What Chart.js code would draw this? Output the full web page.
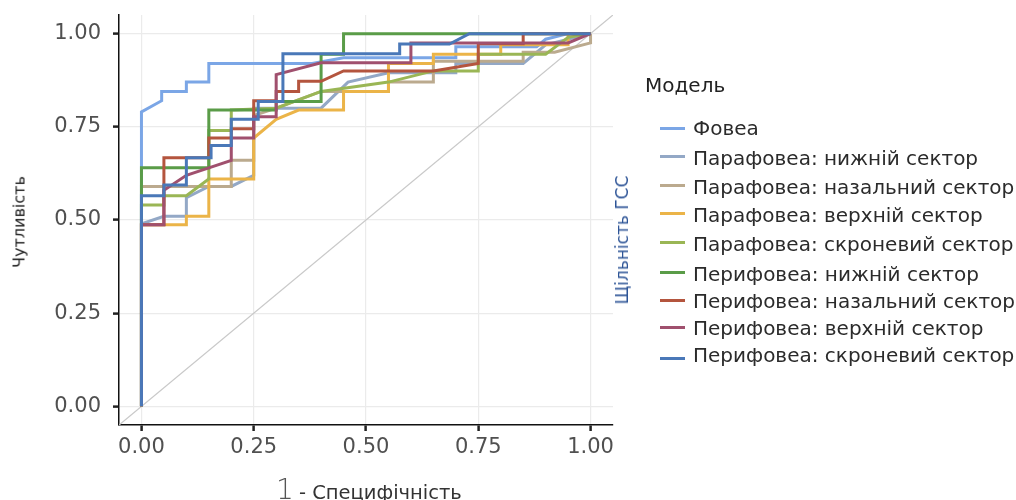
<!DOCTYPE html>
<html><head><meta charset="utf-8">
<script src="https://cdn.jsdelivr.net/npm/chart.js@4/dist/chart.umd.min.js"></script>
<style>
html,body{margin:0;padding:0;background:#fff;}
#wrap{position:relative;width:1016px;height:500px;overflow:hidden;font-family:"DejaVu Sans",sans-serif;}
canvas{position:absolute;left:0;top:0;}
.abs{position:absolute;white-space:nowrap;}
.item{position:absolute;left:693px;font-size:20px;color:#2b2b2b;transform:translateY(-50%);}
.sw{position:absolute;left:660px;width:25px;height:3px;}
</style></head>
<body><div id="wrap"><canvas id="c" width="1016" height="500"></canvas>
<div class="abs" style="left:19px;top:222px;transform:translate(-50%,-50%) rotate(-90deg);font-size:16px;color:#222;">Чутливість</div>
<div class="abs" style="left:276px;top:489px;transform:translateY(-50%);color:#333;"><span style="font-size:28px;font-weight:300;color:#555;">1</span> <span style="font-size:19.5px;">- Специфічність</span></div>
<div class="abs" style="left:622px;top:240px;transform:translate(-50%,-50%) rotate(-90deg);font-size:17px;color:#2E5597;">Щільність ГСС</div>
<div class="abs" style="left:645px;top:85px;transform:translateY(-50%);font-size:20px;color:#222;">Модель</div>
<div id="legend"></div>
</div>
<script>
const modelNames = ["Фовеа","Парафовеа: нижній сектор","Парафовеа: назальний сектор","Парафовеа: верхній сектор","Парафовеа: скроневий сектор","Перифовеа: нижній сектор","Перифовеа: назальний сектор","Перифовеа: верхній сектор","Перифовеа: скроневий сектор"];
const modelColors = ["#7BA6E6","#93A8C6","#BBAA8E","#EBB448","#9AB655","#5A9C48","#B4553E","#A0506E","#4A78B8"];
const tickValues = [0,0.25,0.5,0.75,1];
const tickLabels = ["0.00","0.25","0.50","0.75","1.00"];

// ROC points [1 - specificity, sensitivity]
const fovea = [[0,0],[0,0.79],[0.045,0.82],[0.045,0.845],[0.1,0.845],[0.1,0.87],[0.15,0.87],[0.15,0.92],[0.38,0.92],[0.45,0.935],[0.7,0.935],[0.7,0.965],[0.88,0.965],[0.9,0.985],[0.95,1],[1,1]];
const paraInf = [[0,0],[0,0.49],[0.05,0.51],[0.1,0.51],[0.1,0.56],[0.15,0.59],[0.2,0.59],[0.25,0.62],[0.25,0.8],[0.4,0.8],[0.46,0.87],[0.55,0.895],[0.7,0.895],[0.7,0.92],[0.85,0.92],[0.9,0.97],[1,1]];
const paraNas = [[0,0],[0,0.59],[0.2,0.59],[0.2,0.66],[0.25,0.66],[0.25,0.78],[0.3,0.8],[0.4,0.845],[0.55,0.845],[0.55,0.87],[0.65,0.87],[0.65,0.926],[0.85,0.926],[0.85,0.95],[0.92,0.95],[1,0.975],[1,1]];
const paraSup = [[0,0],[0,0.487],[0.1,0.487],[0.1,0.51],[0.15,0.51],[0.15,0.61],[0.25,0.61],[0.25,0.72],[0.3,0.77],[0.35,0.795],[0.45,0.795],[0.45,0.845],[0.55,0.845],[0.55,0.92],[0.65,0.92],[0.65,0.945],[0.8,0.945],[0.8,0.97],[0.95,0.97],[0.95,1],[1,1]];
const paraTemp = [[0,0],[0,0.54],[0.05,0.54],[0.05,0.565],[0.1,0.565],[0.15,0.61],[0.15,0.74],[0.2,0.74],[0.2,0.795],[0.3,0.8],[0.4,0.845],[0.55,0.87],[0.65,0.9],[0.75,0.9],[0.75,0.945],[0.9,0.945],[0.95,0.99],[1,1]];
const periInf = [[0,0],[0,0.64],[0.15,0.64],[0.15,0.795],[0.3,0.795],[0.3,0.818],[0.4,0.818],[0.4,0.945],[0.45,0.945],[0.45,1],[1,1]];
const periNas = [[0,0],[0,0.487],[0.05,0.487],[0.05,0.667],[0.15,0.667],[0.15,0.72],[0.2,0.72],[0.2,0.745],[0.25,0.745],[0.25,0.82],[0.3,0.82],[0.3,0.845],[0.35,0.845],[0.35,0.872],[0.4,0.872],[0.45,0.9],[0.65,0.9],[0.75,0.92],[0.75,0.973],[0.85,0.973],[0.85,1],[1,1]];
const periSup = [[0,0],[0,0.487],[0.05,0.487],[0.05,0.58],[0.1,0.62],[0.15,0.64],[0.2,0.66],[0.2,0.72],[0.25,0.72],[0.25,0.777],[0.3,0.777],[0.3,0.89],[0.4,0.922],[0.6,0.922],[0.6,0.975],[0.95,0.975],[1,1]];
const periTemp = [[0,0],[0,0.565],[0.05,0.565],[0.05,0.594],[0.1,0.594],[0.1,0.667],[0.155,0.667],[0.155,0.7],[0.2,0.7],[0.2,0.77],[0.26,0.77],[0.26,0.818],[0.315,0.818],[0.315,0.946],[0.575,0.946],[0.575,0.972],[0.686,0.972],[0.73,1],[1,1]];
const refLine = [[-0.05,-0.05],[1.05,1.05]];

const series = [fovea,paraInf,paraNas,paraSup,paraTemp,periInf,periNas,periSup,periTemp];
const datasets = series.map((s,i)=>({
  label: modelNames[i],
  data: s.map(p=>({x:p[0],y:p[1]})),
  borderColor: modelColors[i],
  borderWidth: 3,
  pointRadius: 0,
  tension: 0,
  fill: false,
  order: series.length - i
}));
datasets.push({label:"ref",data:refLine.map(p=>({x:p[0],y:p[1]})),borderColor:"#C9C9C9",borderWidth:1.3,pointRadius:0,fill:false,order:100});

// legend
const lg = document.getElementById('legend');
const legY = [128,158,187,215,244,274,301,328,355];
const swY = [128,156,185,213,242,272,300,327,358];
modelNames.forEach((n,i)=>{
  const sw=document.createElement('div');sw.className='sw';sw.style.top=(swY[i]-1.5)+'px';sw.style.background=modelColors[i];lg.appendChild(sw);
  const t=document.createElement('div');t.className='item';t.style.top=legY[i]+'px';t.textContent=n;lg.appendChild(t);
});

const tickOpts = {family:"DejaVu Sans",size:21};
new Chart(document.getElementById('c'),{
  type:'line',
  data:{datasets},
  options:{
    responsive:false,animation:false,
    layout:{padding:{top:15,right:403,left:0,bottom:0}},
    plugins:{legend:{display:false},tooltip:{enabled:false}},
    scales:{
      x:{type:'linear',min:-0.05,max:1.05,
        afterBuildTicks:s=>{s.ticks=tickValues.map(v=>({value:v}));},
        afterFit:s=>{s.height=75;s.paddingLeft=0;s.paddingRight=0;},
        ticks:{callback:(v)=>tickLabels[tickValues.indexOf(v)],color:'#505050',font:tickOpts,padding:4,maxRotation:0},
        grid:{color:'#EBEBEB',lineWidth:1.2,tickColor:'#222',tickWidth:2.5,tickLength:6},
        border:{display:true,color:'#111',width:1.5}},
      y:{type:'linear',min:-0.05,max:1.05,
        afterBuildTicks:s=>{s.ticks=tickValues.map(v=>({value:v}));},
        afterFit:s=>{s.width=119;s.paddingTop=0;s.paddingBottom=0;},
        ticks:{callback:(v)=>tickLabels[tickValues.indexOf(v)],color:'#505050',font:tickOpts,padding:12},
        grid:{color:'#EBEBEB',lineWidth:1.2,tickColor:'#222',tickWidth:2.5,tickLength:6},
        border:{display:true,color:'#111',width:1.5}}
    }
  }
});
</script></body></html>
